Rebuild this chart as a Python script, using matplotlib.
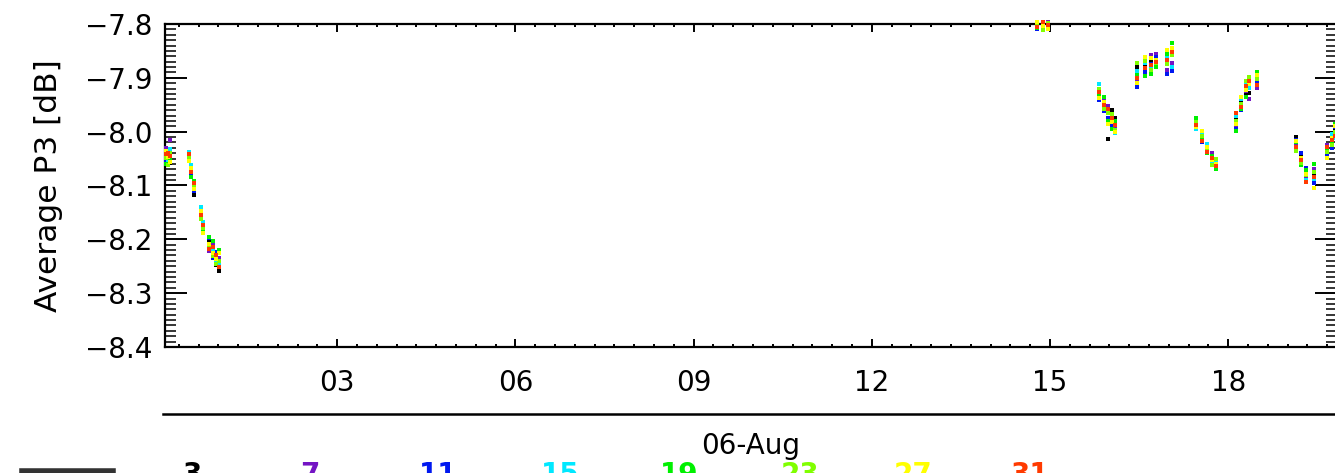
import matplotlib
matplotlib.use("Agg")
import matplotlib.pyplot as plt
from matplotlib.ticker import FixedLocator, MultipleLocator, FuncFormatter
from matplotlib.lines import Line2D

# ---------------- data ----------------
hours = [0.11, 0.15, 0.19, 0.50, 0.54, 0.58, 0.70, 0.74, 0.84, 0.90, 0.96, 1.01,
         14.78, 14.88, 14.97, 15.82, 15.90, 15.97, 16.04, 16.10, 16.46, 16.60, 16.70, 16.78, 16.97, 17.05,
         17.46, 17.55, 17.64, 17.73, 17.80, 18.13, 18.21, 18.29, 18.35, 18.48, 19.14, 19.22, 19.30, 19.45,
         19.66, 19.74, 19.80]

s3 = [-8.045, -8.050, -8.058, -8.046, -8.072, -8.118, -8.150, -8.172, -8.205, -8.228, -8.248, -8.258,
      -7.806, -7.802, -7.810, -7.935, -7.955, -8.014, -7.960, -7.975, -7.880, -7.878, -7.870, -7.876, -7.868, -7.878,
      -7.985, -8.005, -8.030, -8.058, -8.062, -7.975, -7.945, -7.930, -7.928, -7.910, -8.010, -8.045, -8.075, -8.080,
      -8.040, -8.010, -7.998]
s7 = [-8.030, -8.041, -8.015, -8.040, -8.066, -8.098, -8.145, -8.182, -8.222, -8.210, -8.238, -8.234,
      -7.800, -7.797, -7.796, -7.925, -7.940, -7.952, -7.972, -7.992, -7.905, -7.884, -7.858, -7.856, -7.885, -7.872,
      -7.990, -8.012, -8.025, -8.040, -8.055, -7.988, -7.952, -7.925, -7.940, -7.918, -8.025, -8.055, -8.085, -8.070,
      -8.025, -8.020, -8.005]
s11 = [-8.052, -8.036, -8.044, -8.052, -8.078, -8.110, -8.158, -8.176, -8.198, -8.235, -8.224, -8.250,
       -7.810, -7.799, -7.804, -7.942, -7.962, -7.975, -7.990, -7.985, -7.917, -7.890, -7.875, -7.862, -7.893, -7.888,
       -7.978, -8.020, -8.036, -8.050, -8.066, -7.995, -7.960, -7.918, -7.910, -7.905, -8.015, -8.040, -8.068, -8.095,
       -8.045, -8.030, -7.992]
s15 = [-8.038, -8.055, -8.033, -8.037, -8.062, -8.104, -8.140, -8.168, -8.212, -8.220, -8.242, -8.244,
       -7.798, -7.807, -7.800, -7.912, -7.948, -7.960, -7.978, -8.002, -7.888, -7.872, -7.882, -7.869, -7.862, -7.880,
       -7.995, -8.000, -8.022, -8.055, -8.058, -7.970, -7.940, -7.912, -7.918, -7.898, -8.030, -8.050, -8.090, -8.088,
       -8.030, -8.005, -8.012]
s19 = [-8.060, -8.044, -8.052, -8.043, -8.084, -8.092, -8.152, -8.185, -8.196, -8.204, -8.232, -8.220,
       -7.808, -7.801, -7.806, -7.930, -7.935, -7.980, -7.995, -7.980, -7.895, -7.896, -7.893, -7.880, -7.856, -7.835,
       -7.975, -8.015, -8.040, -8.045, -8.070, -7.998, -7.958, -7.935, -7.903, -7.889, -8.020, -8.062, -8.072, -8.060,
       -8.035, -8.018, -7.985]
s23 = [-8.048, -8.062, -8.040, -8.049, -8.070, -8.101, -8.162, -8.179, -8.215, -8.231, -8.246, -8.240,
       -7.803, -7.811, -7.798, -7.920, -7.958, -7.965, -7.968, -7.996, -7.872, -7.868, -7.886, -7.873, -7.875, -7.858,
       -7.982, -8.008, -8.033, -8.062, -8.050, -7.980, -7.948, -7.905, -7.898, -7.902, -8.035, -8.058, -8.080, -8.075,
       -8.038, -8.025, -8.000]
s27 = [-8.035, -8.047, -8.056, -8.055, -8.068, -8.107, -8.147, -8.188, -8.208, -8.225, -8.236, -8.226,
       -7.797, -7.804, -7.809, -7.938, -7.944, -7.985, -7.982, -8.000, -7.910, -7.862, -7.864, -7.866, -7.848, -7.845,
       -7.992, -7.998, -8.028, -8.052, -8.060, -7.985, -7.935, -7.922, -7.912, -7.895, -8.018, -8.048, -8.078, -8.104,
       -8.048, -8.012, -7.990]
s31 = [-8.042, -8.039, -8.046, -8.041, -8.075, -8.095, -8.155, -8.174, -8.218, -8.214, -8.229, -8.252,
       -7.805, -7.796, -7.802, -7.927, -7.951, -7.958, -7.975, -7.988, -7.900, -7.881, -7.877, -7.871, -7.866, -7.852,
       -7.988, -8.018, -8.038, -8.048, -8.064, -7.965, -7.955, -7.915, -7.906, -7.913, -8.028, -8.052, -8.094, -8.085,
       -8.028, -8.015, -8.008]

series_labels = ["3", "7", "11", "15", "19", "23", "27", "31"]
series_values = [s3, s7, s11, s15, s19, s23, s27, s31]
series_colors = ["#000000", "#7414C4", "#0018F0", "#00E8FF", "#00F000", "#80FF00", "#FFFF00", "#FF3A00"]

hour_ticks = [3, 6, 9, 12, 15, 18]
hour_labels = ["03", "06", "09", "12", "15", "18"]
date_label = "06-Aug"
ylabel = "Average P3 [dB]"

# ---------------- figure ----------------
W, H = 1335, 473
fig = plt.figure(figsize=(W / 100, H / 100), dpi=100)
plt.rcParams["font.family"] = ["DejaVu Sans"]
FS = 20

def fx(px):
    return px / W

def fy(py):
    return 1 - py / H

ax_l, ax_r, ax_t, ax_b = 165, 1337, 24, 347
ax = fig.add_axes([fx(ax_l), fy(ax_b), fx(ax_r - ax_l), (ax_b - ax_t) / H])

for lab, vals, col in zip(series_labels, series_values, series_colors):
    ax.scatter(hours, vals, s=9, marker="s", color=col, linewidths=0, clip_on=False, zorder=3)

ax.set_xlim(0.10, 19.83)
ax.set_ylim(-8.4, -7.8)

for sp in ax.spines.values():
    sp.set_linewidth(1.6)

ax.yaxis.set_major_locator(MultipleLocator(0.1))
ax.yaxis.set_minor_locator(MultipleLocator(0.01))
ax.yaxis.set_major_formatter(FuncFormatter(lambda v, p: f"{v:.1f}".replace("-", "\u2212")))
ax.tick_params(axis="y", which="major", direction="in", length=16, width=1.4,
               left=True, right=True, labelsize=FS, pad=9)
ax.tick_params(axis="y", which="minor", direction="in", length=8, width=1.1, left=True, right=True)

ax.xaxis.set_major_locator(FixedLocator(hour_ticks))
ax.xaxis.set_minor_locator(MultipleLocator(1 / 3))
ax.set_xticklabels(hour_labels)
ax.tick_params(axis="x", which="major", direction="in", length=6, width=1.4,
               bottom=True, top=True, labelsize=FS, pad=16)
ax.tick_params(axis="x", which="minor", direction="in", length=2.5, width=1.4, bottom=True, top=True)

ax.set_ylabel(ylabel, fontsize=22.5, labelpad=16)

# second-level date axis
fig.add_artist(Line2D([fx(163), 1.0], [fy(414), fy(414)], color="black", linewidth=1.8))
fig.text(fx((ax_l + ax_r) / 2), fy(446), date_label, fontsize=FS, ha="center", va="center")

# color key along the bottom (cut off at the figure edge, as in the reference)
fig.add_artist(Line2D([fx(22), fx(113)], [fy(471), fy(471)], color="#333333", linewidth=4))
key_x = [192, 310, 438, 560, 679, 800, 913, 1030]
for lab, col, kx in zip(series_labels, series_colors, key_x):
    fig.text(fx(kx), fy(461), lab, color=col, fontsize=FS, fontweight="bold", ha="center", va="top")

fig.savefig("out.png", dpi=100)
